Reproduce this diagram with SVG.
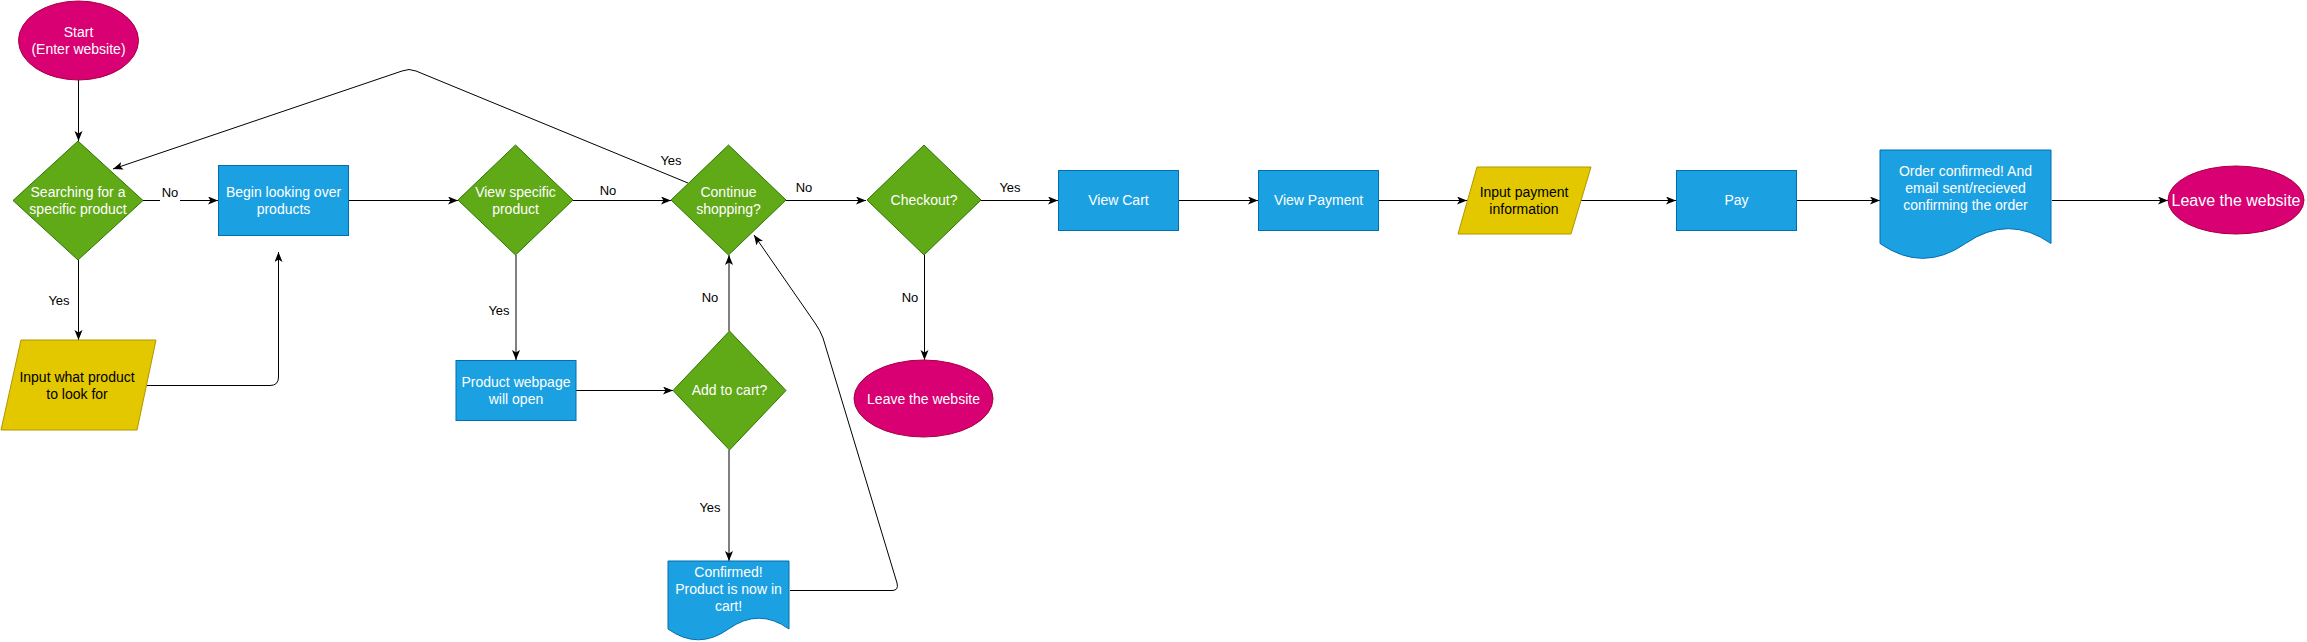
<svg xmlns="http://www.w3.org/2000/svg" width="2307" height="642" viewBox="0 0 2307 642">
<defs>
<marker id="arr" markerUnits="userSpaceOnUse" markerWidth="11" markerHeight="9" refX="10" refY="4" orient="auto">
<path d="M0,0 L10,4 L0,8 L2.5,4 Z" fill="#000"/>
</marker>
</defs>
<style>
.term{fill:#d80073;stroke:#A50040;stroke-width:1}
.dec{fill:#60a917;stroke:#2D7600;stroke-width:1}
.proc{fill:#1ba1e2;stroke:#006EAF;stroke-width:1}
.io{fill:#e3c800;stroke:#B09500;stroke-width:1}
.t{font-family:"Liberation Sans",Arial,Helvetica,sans-serif;font-size:14px;text-anchor:middle;fill:#fff}
.tb{fill:#000}
.big{font-size:16px}
.lbl{font-family:"Liberation Sans",Arial,Helvetica,sans-serif;font-size:13px;text-anchor:middle;fill:#000}
.c{fill:none;stroke:#000;stroke-width:1}
</style>
<g id="connectors">
<path class="c" d="M78.5,80 V141" marker-end="url(#arr)"/>
<path class="c" d="M143,200.5 H218" marker-end="url(#arr)"/>
<path class="c" d="M78.5,260 V340" marker-end="url(#arr)"/>
<path class="c" d="M147,385.5 H270 Q278.5,385.5 278.5,377 V252" marker-end="url(#arr)"/>
<path class="c" d="M349,200.5 H458" marker-end="url(#arr)"/>
<path class="c" d="M516,255 V360" marker-end="url(#arr)"/>
<path class="c" d="M573,200.5 H671" marker-end="url(#arr)"/>
<path class="c" d="M576,390.5 H673" marker-end="url(#arr)"/>
<path class="c" d="M729,331 V255" marker-end="url(#arr)"/>
<path class="c" d="M729,450 V561" marker-end="url(#arr)"/>
<path class="c" d="M790,590.5 L892,590.5 Q899,590.5 897,583 L823,338 Q820,330 815,323 L754,235" marker-end="url(#arr)"/>
<path class="c" d="M688,183 L416,71 Q409,68 402,71 L113,169" marker-end="url(#arr)"/>
<path class="c" d="M786,200.5 H866" marker-end="url(#arr)"/>
<path class="c" d="M924.5,255 V360" marker-end="url(#arr)"/>
<path class="c" d="M981,200.5 H1058" marker-end="url(#arr)"/>
<path class="c" d="M1179,200.5 H1258" marker-end="url(#arr)"/>
<path class="c" d="M1379,200.5 H1467" marker-end="url(#arr)"/>
<path class="c" d="M1580,200.5 H1676" marker-end="url(#arr)"/>
<path class="c" d="M1797,200.5 H1880" marker-end="url(#arr)"/>
<path class="c" d="M2052,200.5 H2168" marker-end="url(#arr)"/>
<rect x="160" y="184" width="20" height="18" fill="#fff"/>
<text class="lbl" x="170" y="197">No</text>
<text class="lbl" x="59" y="305">Yes</text>
<text class="lbl" x="608" y="195">No</text>
<text class="lbl" x="671" y="165">Yes</text>
<text class="lbl" x="804" y="192">No</text>
<text class="lbl" x="499" y="315">Yes</text>
<text class="lbl" x="710" y="302">No</text>
<text class="lbl" x="710" y="512">Yes</text>
<text class="lbl" x="1010" y="192">Yes</text>
<text class="lbl" x="910" y="302">No</text>
</g>
<g id="start">
<ellipse class="term" cx="78.5" cy="40.5" rx="60" ry="39.5"/>
<text class="t" x="78.5" y="37">Start</text>
<text class="t" x="78.5" y="54">(Enter website)</text>
</g>
<g id="searching">
<polygon class="dec" points="78,141 143,200.5 78,260 13,200.5"/>
<text class="t" x="78" y="197">Searching for a</text>
<text class="t" x="78" y="214">specific product</text>
</g>
<g id="begin-looking">
<rect class="proc" x="218.5" y="165.5" width="130" height="70"/>
<text class="t" x="283.5" y="197">Begin looking over</text>
<text class="t" x="283.5" y="214">products</text>
</g>
<g id="input-product">
<polygon class="io" points="21,340 156,340 137,430 1,430"/>
<text class="t tb" x="77" y="382">Input what product</text>
<text class="t tb" x="77" y="399">to look for</text>
</g>
<g id="view-specific">
<polygon class="dec" points="515.5,145 573,200 515.5,255 458,200"/>
<text class="t" x="515.5" y="197">View specific</text>
<text class="t" x="515.5" y="214">product</text>
</g>
<g id="product-webpage">
<rect class="proc" x="456" y="360.5" width="120" height="60"/>
<text class="t" x="516" y="387">Product webpage</text>
<text class="t" x="516" y="404">will open</text>
</g>
<g id="continue-shopping">
<polygon class="dec" points="728.5,145 786,200 728.5,255 671,200"/>
<text class="t" x="728.5" y="197">Continue</text>
<text class="t" x="728.5" y="214">shopping?</text>
</g>
<g id="add-to-cart">
<polygon class="dec" points="729.5,331 786,390.5 729.5,450 673,390.5"/>
<text class="t" x="729.5" y="395">Add to cart?</text>
</g>
<g id="confirmed">
<path class="proc" d="M668,561 H789 V629 Q758.75,607.4 728.5,629 Q698.25,650.6 668,629 Z"/>
<text class="t" x="728.5" y="577">Confirmed!</text>
<text class="t" x="728.5" y="594">Product is now in</text>
<text class="t" x="728.5" y="611">cart!</text>
</g>
<g id="checkout">
<polygon class="dec" points="924,145 981,200 924,255 867,200"/>
<text class="t" x="924" y="205">Checkout?</text>
</g>
<g id="leave-1">
<ellipse class="term" cx="923.5" cy="398.5" rx="69.5" ry="38.5"/>
<text class="t" x="923.5" y="404">Leave the website</text>
</g>
<g id="view-cart">
<rect class="proc" x="1058.5" y="170.5" width="120" height="60"/>
<text class="t" x="1118.5" y="205">View Cart</text>
</g>
<g id="view-payment">
<rect class="proc" x="1258.5" y="170.5" width="120" height="60"/>
<text class="t" x="1318.5" y="205">View Payment</text>
</g>
<g id="input-payment">
<polygon class="io" points="1477,167 1591,167 1571,234 1458,234"/>
<text class="t tb" x="1524" y="197">Input payment</text>
<text class="t tb" x="1524" y="214">information</text>
</g>
<g id="pay">
<rect class="proc" x="1676.5" y="170.5" width="120" height="60"/>
<text class="t" x="1736.5" y="205">Pay</text>
</g>
<g id="order-confirmed">
<path class="proc" d="M1880,150 H2051 V243.5 Q2008.25,213.8 1965.5,243.5 Q1922.75,273.2 1880,243.5 Z"/>
<text class="t" x="1965.5" y="176">Order confirmed! And</text>
<text class="t" x="1965.5" y="193">email sent/recieved</text>
<text class="t" x="1965.5" y="210">confirming the order</text>
</g>
<g id="leave-2">
<ellipse class="term" cx="2236" cy="200" rx="68" ry="34"/>
<text class="t big" x="2236" y="206">Leave the website</text>
</g>
</svg>
